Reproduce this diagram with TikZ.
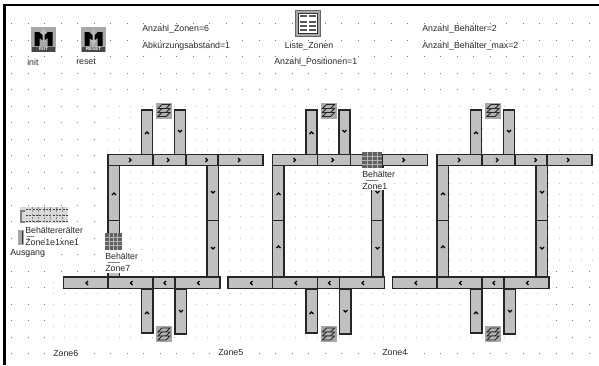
\documentclass[tikz,border=0pt]{standalone}
\usepackage{fontspec}
\setmainfont{Liberation Sans}
\usepackage{tikz}
\definecolor{beltgray}{RGB}{192,192,192}
\definecolor{icongray}{RGB}{168,168,168}
\definecolor{griddot}{RGB}{120,120,120}
\definecolor{lightdot}{RGB}{190,190,190}
\definecolor{txtgray}{RGB}{40,40,40}
\tikzset{
  belt/.style={draw=black!85,fill=beltgray,line width=0.95pt},
  chevron/.style={draw=black,line width=1pt},
  lbl/.style={font=\fontsize{6.6}{7}\selectfont,text=txtgray,anchor=west,inner sep=0pt},
  stackicon/.pic={
    \fill[icongray] (0,0) rectangle (16,16);
    \foreach \ly in {4,8,12} \draw[black!85,fill=black!30,line width=0.6pt] (2,\ly+2) -- (6,\ly-2) -- (14,\ly-2) -- (10,\ly+2) -- cycle;
  },
  boxicon/.pic={
    \fill[black!62] (0,0) rectangle (\pgfkeysvalueof{/tikz/boxw},\pgfkeysvalueof{/tikz/boxh});
    \foreach \bx in {1,2,3} \fill[black!30] (\bx*\pgfkeysvalueof{/tikz/boxw}/4-0.5,0) rectangle +(1,\pgfkeysvalueof{/tikz/boxh});
    \foreach \by in {1,2,3} \fill[black!30] (0,\by*\pgfkeysvalueof{/tikz/boxh}/4-0.5) rectangle +(\pgfkeysvalueof{/tikz/boxw},1);
  },
  boxw/.initial=18,boxh/.initial=17,
  starticon/.pic={
    \fill[icongray] (0,0) rectangle (25,25);
    \fill[black] (3.5,19) -- (3.5,5) -- (8,5) -- (12.5,9) -- (17,5) -- (21.5,5) -- (21.5,19) -- (16.5,19) -- (16.5,11) -- (12.5,14) -- (8.5,11) -- (8.5,19) -- cycle;
    \fill[black!72] (1,19.5) rectangle (24,25);
  },
}
\begin{document}
\begin{tikzpicture}[x=0.75pt,y=-0.75pt]
\useasboundingbox (0,0) rectangle (599,365);
% raster outside the zones
\foreach \gx in {0,...,35} \foreach \gy in {0,...,20}
  \fill[griddot] (11+\gx*16.5,23+\gy*16.5) rectangle +(1,1);
% finer raster of the pasted zones
\fill[white] (105,100) -- (596,100) -- (596,266) -- (551,266) -- (551,345) -- (53,345) -- (53,272) -- (105,272) -- cycle;
\begin{scope}
\clip (105,100) -- (596,100) -- (596,266) -- (551,266) -- (551,345) -- (53,345) -- (53,272) -- (105,272) -- cycle;
\foreach \gx in {-5,...,44} \foreach \gy in {0,...,22}
  \fill[lightdot] (108+\gx*11,106+\gy*11) rectangle +(1,1);
\end{scope}
% window edge
\fill[black] (3,4) rectangle (599,6);
\fill[black] (3,4) rectangle (5.5,365);
% the three loops
\foreach \zx in {0,164.5,329} {
\begin{scope}[shift={(\zx,0)}]
\foreach \xa/\ya/\xb/\yb in {141.5/110/152.5/154.5,174.5/110/185.5/154.5,108/165/119.5/220.5,108/220.5/119.5/277,207/165/218.5/220.5,207/220.5/218.5/277,141.5/289/153/333,175/289/186.5/334,
  108/154.5/153/165.5,153/154.5/186/165.5,186/154.5/218/165.5,218/154.5/263/165.5,
  63.5/277/108/288.5,108/277/153/288.5,153/277/175/288.5,175/277/220/288.5}
  \draw[belt] (\xa,\ya) rectangle (\xb,\yb);
% conveyor direction
\foreach \cx/\cy in {130/160,168/160,206.5/160,239/160}
  \draw[chevron] (\cx-1,\cy-2) -- (\cx+1,\cy) -- (\cx-1,\cy+2);
\foreach \cx/\cy in {87/283,131.5/283,165/283,198.5/283}
  \draw[chevron] (\cx+1,\cy-2) -- (\cx-1,\cy) -- (\cx+1,\cy+2);
\foreach \cx/\cy in {147/133,114/194,114/247,147/313}
  \draw[chevron] (\cx-2,\cy+1) -- (\cx,\cy-1) -- (\cx+2,\cy+1);
\foreach \cx/\cy in {180/131,213/192,213/248,181/311}
  \draw[chevron] (\cx-2,\cy-1) -- (\cx,\cy+1) -- (\cx+2,\cy-1);
\pic at (156,102.5) {stackicon};
\pic at (156,326) {stackicon};
\end{scope}
}
% start buttons and list
\pic at (31,27) {starticon};
\pic at (81,27) {starticon};
\fill[black!25] (43.5,29) -- (40.5,33) -- (42.5,33) -- (42.5,42) -- (44.5,42) -- (44.5,33) -- (46.5,33) -- cycle;
\fill[black!25] (93.5,45) -- (90.5,40) -- (92.5,40) -- (92.5,29) -- (94.5,29) -- (94.5,40) -- (96.5,40) -- cycle;
\node[font=\fontsize{3.4}{4}\selectfont\bfseries,text=white,inner sep=0pt] (inittag) at (43.5,49.3) {INIT};
\node[font=\fontsize{3.4}{4}\selectfont\bfseries,text=white,inner sep=0pt] (resettag) at (93.5,49.3) {RESET};
\draw[black!60,fill=icongray,line width=0.6pt] (295,10) rectangle (320,36);
\draw[black!80,fill=white,line width=0.6pt] (298,13) rectangle (317,33);
\foreach \tx/\ty in {300/15,309/15,300/21,309/21,300/25,309/25,300/29,309/29}
  \fill[black!65] (\tx,\ty) rectangle +(6.5,2);
% containers with their labels
\fill[white] (362,168) rectangle (394,190);
\fill[white] (105,250) rectangle (134,273);
\begin{scope}[boxw=20,boxh=16]
\pic at (362,152) {boxicon};
\end{scope}
\begin{scope}[boxw=17,boxh=17]
\pic at (105,233) {boxicon};
\end{scope}
\draw[black!50,line width=0.5pt] (366,180.5) -- (378,180.5);
\draw[black!50,line width=0.5pt] (108,262) -- (120,262);
\node[lbl] (beh1) at (362,174) {Behälter};
\node[lbl] (zone1) at (362,187) {Zone1};
\node[lbl] (beh7) at (105,256) {Behälter};
\node[lbl] (zone7) at (105,269) {Zone7};
% exit with the stacked containers
\fill[black!15] (20,207) rectangle (68,223);
\foreach \dy in {209,215,221} \draw[black!75,dash pattern=on 1.5pt off 1pt,line width=0.7pt] (26,\dy) -- (68,\dy);
\foreach \dx in {32,38,44,50,56,62} \draw[black!45,dash pattern=on 1.5pt off 1pt,line width=0.6pt] (\dx,207) -- (\dx,223);
\draw[black!50,line width=1pt] (25,211) -- (21,211) -- (21,222) -- (25,222);
\fill[black!35] (18,230) rectangle (24,245);
\draw[black!80,line width=0.6pt] (22,231) -- (22,244);
\draw[black!50,line width=0.5pt] (27,236.5) -- (34,236.5);
\node[lbl] (behout) at (25,230) {Behältererälter};
\node[lbl] (zoneout) at (25,243) {Zone1e1xne1};
\node[lbl] (ausgang) at (10,253) {Ausgang};
% texts
\node[lbl] (init) at (27,62) {init};
\node[lbl] (reset) at (76,62) {reset};
\node[lbl] (anzzonen) at (142,29) {Anzahl\_Zonen=6};
\node[lbl] (abk) at (142,46) {Abkürzungsabstand=1};
\node[lbl,anchor=center] (liste) at (309,46) {Liste\_Zonen};
\node[lbl] (anzpos) at (274,62) {Anzahl\_Positionen=1};
\node[lbl] (anzbeh) at (422,29) {Anzahl\_Behälter=2};
\node[lbl] (anzmax) at (422,46) {Anzahl\_Behälter\_max=2};
\node[lbl] (zone6) at (53,353) {Zone6};
\node[lbl] (zone5) at (218,353) {Zone5};
\node[lbl] (zone4) at (382,353) {Zone4};
\end{tikzpicture}
\end{document}
